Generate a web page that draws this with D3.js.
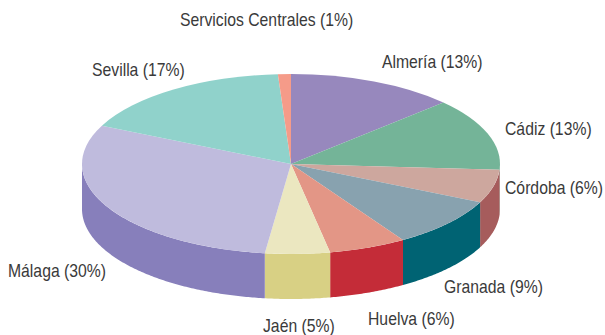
<!DOCTYPE html>
<html>
<head>
<meta charset="utf-8">
<script src="https://cdn.jsdelivr.net/npm/d3@7"></script>
<style>
  html, body { margin: 0; padding: 0; background: #fff; }
  text { font-family: "Liberation Sans", sans-serif; font-size: 18px; fill: #3a3a3a; }
</style>
</head>
<body>
<div class="chart"></div>
<script>
var provinces = ["Almería", "Cádiz", "Córdoba", "Granada", "Huelva", "Jaén", "Málaga", "Sevilla", "Servicios Centrales"];
var shares = [13, 13, 6, 9, 6, 5, 30, 17, 1];

var topColors = ["#9788bd", "#74b498", "#cda79e", "#88a2af", "#e39686", "#ebe7c0", "#bfbbdd", "#90d2cb", "#f59b89"];
var wallColors = ["#7a6ca0", "#5a957c", "#a65c5c", "#006373", "#c42c38", "#d8d084", "#877fbb", "#6fb0a9", "#d07d6c"];

// left edge and baseline of each label, placed by hand like the original
var labelX = [382, 505, 505, 444, 368, 263, 8, 92, 180];
var labelY = [68, 135, 194, 293, 325, 332, 277, 76, 26];

var svgWidth = 605;
var svgHeight = 335;
var cx = 291;
var cy = 164;
var rx = 209;
var ry = 90;
var depth = 45;
var textSqueeze = 0.875; // no narrow font installed, so squeeze the labels

var svg = d3.select(".chart")
  .append("svg")
  .attr("width", svgWidth)
  .attr("height", svgHeight)
  .style("display", "block");

var pie = d3.pie().sort(null)(shares);

// x and y of a point on the rim, angle measured clockwise from the top
function rimX(a) { return cx + rx * Math.sin(a); }
function rimY(a) { return cy - ry * Math.cos(a); }

var rimLine = d3.line();

// front wall of a slice, only the part between 90 and 270 degrees shows
function wallPath(d) {
  var start = Math.max(d.startAngle, Math.PI / 2);
  var end = Math.min(d.endAngle, Math.PI * 1.5);
  if (end <= start) return null;
  var angles = d3.range(start, end, 0.01).concat([end]);
  var upper = angles.map(a => [rimX(a), rimY(a)]);
  var lower = angles.slice().reverse().map(a => [rimX(a), rimY(a) + depth]);
  return rimLine(upper.concat(lower)) + "Z";
}

svg.append("g").selectAll("path")
  .data(pie)
  .enter()
  .append("path")
  .attr("d", wallPath)
  .attr("fill", (d, i) => wallColors[i]);

// top face is a plain d3 arc squashed into an ellipse
var arc = d3.arc().innerRadius(0).outerRadius(rx);

svg.append("g")
  .attr("transform", `translate(${cx}, ${cy}) scale(1, ${ry / rx})`)
  .selectAll("path")
  .data(pie)
  .enter()
  .append("path")
  .attr("d", arc)
  .attr("fill", (d, i) => topColors[i]);

svg.append("g").selectAll("text")
  .data(provinces)
  .enter()
  .append("text")
  .attr("transform", (d, i) => `translate(${labelX[i]}, ${labelY[i]}) scale(${textSqueeze}, 1)`)
  .text((d, i) => `${d} (${shares[i]}%)`);
</script>
</body>
</html>
